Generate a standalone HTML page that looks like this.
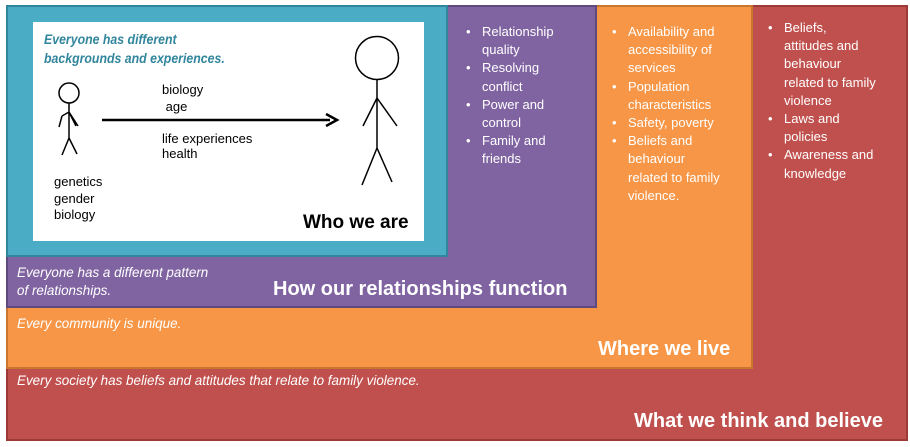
<!DOCTYPE html>
<html><head><meta charset="utf-8"><style>
body{margin:0;width:910px;height:447px;background:#fff;position:relative;overflow:hidden;font-family:"Liberation Sans",sans-serif}
.b{position:absolute;box-sizing:border-box}
.t{position:absolute;white-space:nowrap;color:#fff}
.i{font-style:italic;font-size:14px;transform:scaleX(.96);transform-origin:left top}
ul{margin:0;padding:0;list-style:none}
li{position:relative;padding-left:20px;font-size:13px;line-height:18.2px;color:#fff;white-space:nowrap}
li:before{content:"•";position:absolute;left:4px}
</style></head><body>
<div class="b" style="left:6px;top:5px;width:902px;height:436px;background:#c0504d;border:2px solid #9b3a37"></div>
<div class="b" style="left:6px;top:5px;width:747px;height:364px;background:#f79646;border:2px solid #c9772f"></div>
<div class="b" style="left:6px;top:5px;width:591px;height:303px;background:#8064a2;border:2px solid #5f4a7e"></div>
<div class="b" style="left:6px;top:5px;width:442px;height:252px;background:#4bacc6;border:2px solid #31859c"></div>
<div class="b" style="left:33px;top:22px;width:391px;height:219px;background:#fff"></div>

<div class="t" style="left:44px;top:30px;color:#31859c;font-weight:bold;font-style:italic;font-size:14px;line-height:19px;transform:scaleX(.88);transform-origin:left top">Everyone has different<br>backgrounds and experiences.</div>
<svg class="b" style="left:0;top:0" width="450" height="250">
<g stroke="#000" stroke-width="1.5" fill="none">
<circle cx="69" cy="93" r="10"/><path d="M69 103V138M62 116L69 112L76 126M62 116l-3 11M69 112l9 14M69 138L62 155M69 138L77 154"/>
<circle cx="377" cy="58" r="21.5"/><path d="M377 80V148M377 98L363 126M377 98L397 126M377 148L362 185M377 148L392 182"/>
</g>
<path d="M102 120H330" stroke="#000" stroke-width="2.5"/><path d="M326 114L337 120L326 126" stroke="#000" stroke-width="2.5" fill="none"/>
</svg>
<div class="t" style="left:162px;top:81px;color:#000;font-size:13px;line-height:17px">biology<br>&nbsp;age</div>
<div class="t" style="left:162px;top:131px;color:#000;font-size:13px;line-height:15px">life experiences<br>health</div>
<div class="t" style="left:54px;top:174px;color:#000;font-size:13px;line-height:16.5px">genetics<br>gender<br>biology</div>
<div class="t" style="left:303px;top:212px;color:#000;font-weight:bold;font-size:19px;">Who we are</div>

<ul class="b" style="left:462px;top:23px"><li>Relationship<br>quality</li><li>Resolving<br>conflict</li><li>Power and<br>control</li><li>Family and<br>friends</li></ul>
<ul class="b" style="left:608px;top:23px"><li>Availability and<br>accessibility of<br>services</li><li>Population<br>characteristics</li><li>Safety, poverty</li><li>Beliefs and<br>behaviour<br>related to family<br>violence.</li></ul>
<ul class="b" style="left:764px;top:19px"><li>Beliefs,<br>attitudes and<br>behaviour<br>related to family<br>violence</li><li>Laws and<br>policies</li><li>Awareness and<br>knowledge</li></ul>

<div class="t i" style="left:17px;top:263px;line-height:18px">Everyone has a different pattern<br>of relationships.</div>
<div class="t" style="left:273px;top:278px;font-size:20px;font-weight:bold">How our relationships function</div>
<div class="t i" style="left:17px;top:315px">Every community is unique.</div>
<div class="t" style="left:598px;top:338px;font-size:20px;font-weight:bold">Where we live</div>
<div class="t i" style="left:17px;top:372px">Every society has beliefs and attitudes that relate to family violence.</div>
<div class="t" style="left:634px;top:410px;font-size:20px;font-weight:bold">What we think and believe</div>
</body></html>
